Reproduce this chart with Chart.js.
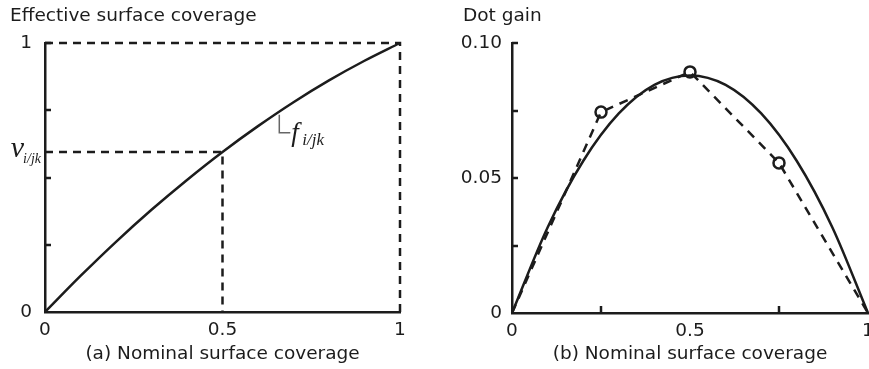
<!DOCTYPE html>
<html>
<head>
<meta charset="utf-8">
<script src="https://cdn.jsdelivr.net/npm/chart.js@4"></script>
<style>
  html, body { margin: 0; padding: 0; background: #fff; overflow: hidden; }
  #wrap { position: relative; width: 869px; height: 369px; overflow: hidden; }
  #coverage { position: absolute; left: 0; top: 0; }
  #dotgain { position: absolute; left: 430px; top: 0; }
</style>
</head>
<body>
<div id="wrap">
  <canvas id="coverage" width="440" height="369"></canvas>
  <canvas id="dotgain" width="470" height="369"></canvas>
</div>
<script>
const INK = "#1c1c1c";
const SANS = "'DejaVu Sans', 'Liberation Sans', Arial, sans-serif";
const SERIF = "'Liberation Serif', 'Times New Roman', serif";

// (a) effective vs nominal surface coverage
const nominal = [0, 0.1, 0.2, 0.3, 0.4, 0.5, 0.6, 0.7, 0.8, 0.9, 1];
const effective = [0, 0.134, 0.261, 0.38, 0.491, 0.595, 0.691, 0.78, 0.861, 0.934, 1];
const markNominal = 0.5;
const markEffective = 0.595;
const coverageXTicks = [0, 0.5, 1];
const coverageYTicks = [0, 1];
const coverageYMinor = [0.25, 0.5, 0.75, 1];
const curveLabelAt = 0.66;

// (b) dot gain, fitted curve and measured points
const gainX = [0, 0.1, 0.2, 0.3, 0.4, 0.5, 0.6, 0.7, 0.8, 0.9, 1];
const gainFit = [0, 0.0317, 0.0563, 0.0739, 0.0845, 0.088, 0.0845, 0.0739, 0.0563, 0.0317, 0];
const measuredX = [0, 0.25, 0.5, 0.75, 1];
const measuredGain = [0, 0.0744, 0.0893, 0.0556, 0];
const gainXTicks = [0, 0.5, 1];
const gainYTicks = [0, 0.05, 0.1];
const gainYLabels = ["0", "0.05", "0.10"];
const gainXMinor = [0.25, 0.75];
const gainYMinor = [0.025, 0.05, 0.075, 0.1];

const toPoints = (xs, ys) => xs.map((x, i) => ({ x, y: ys[i] }));

// heading text and little inward tick marks
const decor = {
  id: "decor",
  afterDraw(chart, args, opts) {
    const { ctx, chartArea, scales } = chart;
    ctx.save();
    ctx.fillStyle = INK;
    ctx.font = "18.5px " + SANS;
    ctx.textBaseline = "middle";
    ctx.textAlign = "left";
    ctx.fillText(opts.heading, opts.headingX, 16);

    ctx.strokeStyle = INK;
    ctx.lineWidth = 2.5;
    ctx.beginPath();
    (opts.yMinor || []).forEach((v) => {
      const y = Math.round(scales.y.getPixelForValue(v));
      ctx.moveTo(chartArea.left, y);
      ctx.lineTo(chartArea.left + 6, y);
    });
    (opts.xMinor || []).forEach((v) => {
      const x = Math.round(scales.x.getPixelForValue(v));
      ctx.moveTo(x, chartArea.bottom);
      ctx.lineTo(x, chartArea.bottom - 7);
    });
    ctx.stroke();
    ctx.restore();
  },
};

// italic symbols v_i/jk and f_i/jk on the coverage plot
const symbols = {
  id: "symbols",
  afterDraw(chart) {
    const { ctx, scales } = chart;
    ctx.save();
    ctx.fillStyle = INK;
    ctx.textAlign = "left";
    ctx.textBaseline = "alphabetic";

    const vy = scales.y.getPixelForValue(markEffective);
    ctx.font = "italic 14px " + SERIF;
    const subW = ctx.measureText("i/jk").width;
    ctx.fillText("i/jk", 41 - subW, vy + 11);
    ctx.font = "italic 30px " + SERIF;
    const vW = ctx.measureText("v").width;
    ctx.fillText("v", 41 - subW - vW + 1, vy + 5);

    // point on the curve where the leader starts
    let k = 0;
    while (k < nominal.length - 2 && nominal[k + 1] < curveLabelAt) k++;
    const t = (curveLabelAt - nominal[k]) / (nominal[k + 1] - nominal[k]);
    const cy = effective[k] + t * (effective[k + 1] - effective[k]);
    const px = scales.x.getPixelForValue(curveLabelAt);
    const py = scales.y.getPixelForValue(cy);

    ctx.strokeStyle = "#666";
    ctx.lineWidth = 1.5;
    ctx.beginPath();
    ctx.moveTo(px, py + 3);
    ctx.lineTo(px, py + 21);
    ctx.lineTo(px + 11, py + 21);
    ctx.stroke();

    ctx.font = "italic 27px " + SERIF;
    ctx.fillText("f", px + 12, py + 29);
    ctx.font = "italic 17px " + SERIF;
    ctx.fillText("i/jk", px + 23, py + 33);
    ctx.restore();
  },
};

function axis(opts) {
  return {
    type: "linear",
    min: opts.min,
    max: opts.max,
    afterBuildTicks: (s) => { s.ticks = opts.ticks.map((value) => ({ value })); },
    afterFit: opts.fit,
    grid: { display: false, drawTicks: false },
    border: { display: true, color: INK, width: 2.5 },
    ticks: {
      color: INK,
      font: { family: SANS, size: 18.5 },
      padding: opts.padding,
      maxRotation: 0,
      autoSkip: false,
      callback: opts.label,
    },
    title: opts.title
      ? { display: true, text: opts.title, color: INK, font: { family: SANS, size: 18.5 }, padding: { top: 0, bottom: 4 } }
      : { display: false },
  };
}

new Chart(document.getElementById("coverage"), {
  type: "line",
  data: {
    datasets: [
      {
        data: toPoints(nominal, effective),
        borderColor: INK,
        borderWidth: 2.5,
        cubicInterpolationMode: "monotone",
        pointRadius: 0,
        clip: 10,
      },
      {
        data: [
          { x: 0, y: markEffective },
          { x: markNominal, y: markEffective },
          { x: markNominal, y: 0 },
        ],
        borderColor: INK,
        borderWidth: 2.5,
        borderDash: [8, 6],
        pointRadius: 0,
        clip: 10,
      },
      {
        data: [
          { x: 0, y: 1 },
          { x: 1, y: 1 },
          { x: 1, y: 0 },
        ],
        borderColor: INK,
        borderWidth: 2.5,
        borderDash: [8, 6],
        pointRadius: 0,
        clip: 10,
      },
    ],
  },
  options: {
    responsive: false,
    animation: false,
    layout: { padding: { left: 0, right: 40, top: 43, bottom: 0 } },
    plugins: {
      legend: { display: false },
      tooltip: { enabled: false },
      decor: { heading: "Effective surface coverage", headingX: 10, yMinor: coverageYMinor },
    },
    scales: {
      x: axis({
        min: 0, max: 1, ticks: coverageXTicks, padding: 7,
        label: (v) => String(v),
        fit: (s) => { s.height = 57; },
        title: "(a) Nominal surface coverage",
      }),
      y: axis({
        min: 0, max: 1, ticks: coverageYTicks, padding: 13,
        label: (v) => String(v),
        fit: (s) => { s.width = 45; },
      }),
    },
  },
  plugins: [decor, symbols],
});

new Chart(document.getElementById("dotgain"), {
  type: "line",
  data: {
    datasets: [
      {
        data: toPoints(gainX, gainFit),
        borderColor: INK,
        borderWidth: 2.5,
        cubicInterpolationMode: "monotone",
        pointRadius: 0,
        clip: 10,
      },
      {
        data: toPoints(measuredX, measuredGain),
        borderColor: INK,
        borderWidth: 2.5,
        borderDash: [9, 7],
        tension: 0,
        pointRadius: measuredX.map((x) => (x > 0 && x < 1 ? 5.5 : 0)),
        pointBorderWidth: 2.5,
        pointBorderColor: INK,
        pointBackgroundColor: "rgba(0,0,0,0)",
        clip: 10,
      },
    ],
  },
  options: {
    responsive: false,
    animation: false,
    layout: { padding: { left: 0, right: 32, top: 43, bottom: 0 } },
    plugins: {
      legend: { display: false },
      tooltip: { enabled: false },
      decor: { heading: "Dot gain", headingX: 33, xMinor: gainXMinor, yMinor: gainYMinor },
    },
    scales: {
      x: axis({
        min: 0, max: 1, ticks: gainXTicks, padding: 7,
        label: (v) => String(v),
        fit: (s) => { s.height = 56; },
        title: "(b) Nominal surface coverage",
      }),
      y: axis({
        min: 0, max: 0.1, ticks: gainYTicks, padding: 10,
        label: (v, i) => gainYLabels[i],
        fit: (s) => { s.width = 82; },
      }),
    },
  },
  plugins: [decor],
});
</script>
</body>
</html>
